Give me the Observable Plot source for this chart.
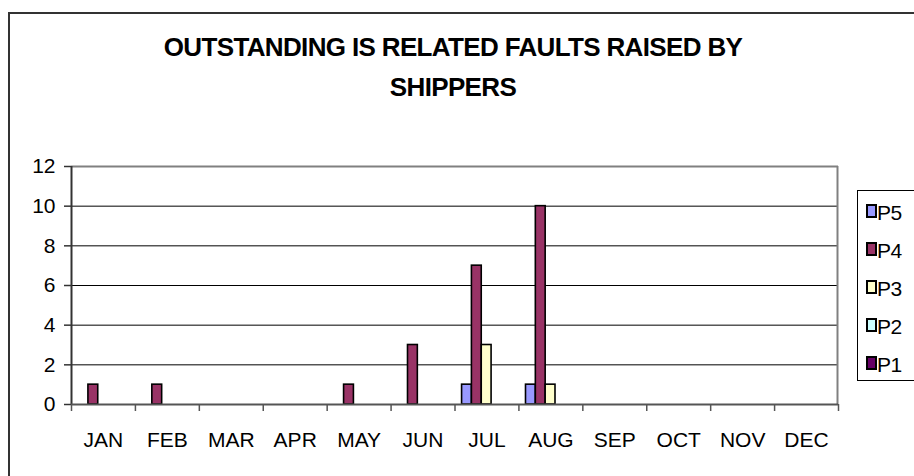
<!DOCTYPE html>
<html>
<head>
<meta charset="utf-8">
<script src="https://cdn.jsdelivr.net/npm/d3@7"></script>
<script src="https://cdn.jsdelivr.net/npm/@observablehq/plot@0.6"></script>
<style>
  html, body { margin: 0; padding: 0; background: #fff; overflow: hidden; width: 914px; height: 476px; }
  body { position: relative; font-family: "Liberation Sans", Arial, sans-serif; }
  #frame { position: absolute; left: 8px; top: 12px; width: 1200px; height: 1200px;
           border-left: 2px solid #333; border-top: 2px solid #333; box-sizing: border-box; }
  #title { position: absolute; left: 0; top: 27px; width: 906px; text-align: center;
           font-weight: bold; font-size: 26px; line-height: 40px; letter-spacing: -0.65px; color: #000; z-index: 2; }
  #chart { position: absolute; left: 0; top: 0; z-index: 1; }
  #legend { position: absolute; left: 857px; top: 190px; width: 300px; height: 191px;
            border: 1px solid #000; box-sizing: border-box; background: #fff; z-index: 3; }
  .item { position: absolute; left: 0; height: 24px; }
  .sw { position: absolute; left: 8px; width: 11px; height: 14px; border: 2px solid #000; box-sizing: border-box; }
  .lab { position: absolute; left: 19px; font-size: 21px; line-height: 21px; letter-spacing: -0.5px; color: #000; }
</style>
</head>
<body>
<div id="frame"></div>
<div id="title">OUTSTANDING IS RELATED FAULTS RAISED BY<br>SHIPPERS</div>
<div id="chart"></div>
<div id="legend"></div>
<script>
const months = ["JAN","FEB","MAR","APR","MAY","JUN","JUL","AUG","SEP","OCT","NOV","DEC"];
const seriesNames = ["P5","P4","P3","P2","P1"];
const seriesColors = ["#9999FF","#993366","#FFFFCC","#CCFFFF","#660066"];
const P5 = [0,0,0,0,0,0,1,1,0,0,0,0];
const P4 = [1,1,0,0,1,3,7,10,0,0,0,0];
const P3 = [0,0,0,0,0,0,3,1,0,0,0,0];
const P2 = [0,0,0,0,0,0,0,0,0,0,0,0];
const P1 = [0,0,0,0,0,0,0,0,0,0,0,0];
const yTicks = [0,2,4,6,8,10,12];

const seriesValues = [P5, P4, P3, P2, P1];
const rows = [];
seriesNames.forEach((s, i) => months.forEach((m, j) => rows.push({month: m, series: s, value: seriesValues[i][j]})));

const W = 914, H = 476;
const mL = 71, mR = 76, mT = 166, mB = 72;
const bw = (W - mL - mR) / months.length;
const barW = bw / 6.5;

const barMarks = seriesNames.map((s, i) =>
  Plot.barY(rows.filter(d => d.series === s && d.value > 0), {
    x: "month", y: "value",
    fill: seriesColors[i], stroke: "#000", strokeWidth: 1.6,
    insetLeft: barW * (0.72 + i), insetRight: bw - barW * (0.72 + i + 1)
  })
);

const chart = Plot.plot({
  width: W, height: H,
  marginLeft: mL, marginRight: mR, marginTop: mT, marginBottom: mB,
  style: {fontFamily: "'Liberation Sans', Arial, sans-serif", fontSize: "21px", background: "transparent", overflow: "visible"},
  x: {domain: months, type: "band", padding: 0, round: false, label: null},
  y: {domain: [0, 12], label: null},
  marks: [
    Plot.ruleY(yTicks.filter(v => v > 0 && v < 12), {stroke: "#000", strokeWidth: 1}),
    Plot.ruleY([12], {stroke: "#808080", strokeWidth: 2}),
    Plot.ruleX(["DEC"], {x: d => d, y1: 0, y2: 12, dx: bw / 2 - 1, stroke: "#808080", strokeWidth: 2}),
    ...barMarks,
    Plot.ruleX(["JAN"], {x: d => d, y1: 0, y2: 12, dx: -bw / 2, stroke: "#333", strokeWidth: 2}),
    Plot.ruleY([0], {stroke: "#555", strokeWidth: 2}),
    Plot.axisY({ticks: yTicks, label: null, tickSize: 7, tickPadding: 9, fontSize: 21, stroke: "#333", strokeWidth: 1.5}),
    Plot.axisX({label: null, tickSize: 7, tickPadding: 0, tickFormat: () => "", dx: -bw / 2, stroke: "#555", strokeWidth: 1.5}),
    Plot.axisX({label: null, ticks: ["DEC"], tickSize: 7, tickPadding: 0, tickFormat: () => "", dx: bw / 2, stroke: "#555", strokeWidth: 1.5}),
    Plot.axisX({label: null, tickSize: 0, tickPadding: 28, fontSize: 21})
  ]
});
document.getElementById("chart").appendChild(chart);

const legend = document.getElementById("legend");
seriesNames.forEach((s, i) => {
  const item = document.createElement("div");
  item.className = "item";
  item.style.top = (10 + i * 38) + "px";
  const sw = document.createElement("div");
  sw.className = "sw";
  sw.style.background = seriesColors[i];
  sw.style.top = "3px";
  const lab = document.createElement("div");
  lab.className = "lab";
  lab.style.top = "1px";
  lab.textContent = s;
  item.appendChild(sw); item.appendChild(lab);
  legend.appendChild(item);
});
</script>
</body>
</html>
